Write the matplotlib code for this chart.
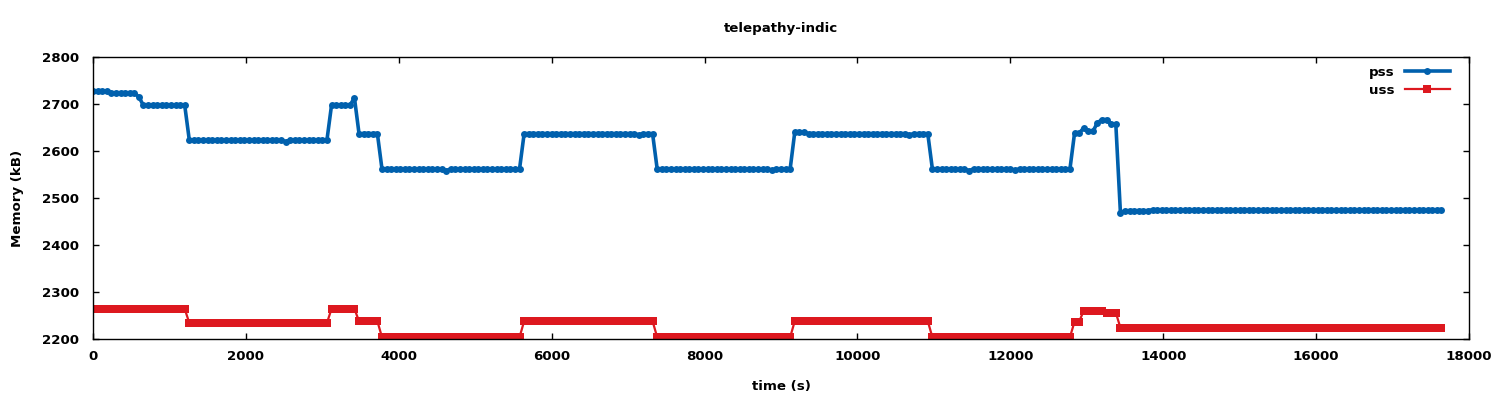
import numpy as np
import matplotlib
matplotlib.use("Agg")
import matplotlib.pyplot as plt

# ---- data (sampled every 60 s, run-length encoded: level, number of samples) ----
sample_interval_s = 60

pss_levels = [2727, 2724, 2715, 2697, 2623, 2620, 2623, 2697, 2713, 2637,
              2562, 2558, 2562, 2637, 2634, 2637, 2562, 2559, 2562,
              2640, 2637, 2634, 2637, 2562, 2558, 2562, 2559, 2562,
              2638, 2649, 2642, 2660, 2667, 2657, 2469, 2473, 2475]
pss_counts = [4, 6, 1, 10, 21, 1, 9, 5, 1, 5,
              14, 1, 16, 25, 1, 3, 25, 1, 4,
              3, 22, 1, 4, 8, 1, 9, 1, 12,
              2, 1, 2, 1, 2, 2, 1, 6, 64]

uss_levels = [2264, 2234, 2264, 2238, 2204, 2238, 2204, 2238, 2204,
              2237, 2260, 2256, 2224]
uss_counts = [21, 31, 6, 5, 31, 29, 30, 30, 31,
              2, 5, 3, 71]

title = "telepathy-indic"
xlabel = "time (s)"
ylabel = "Memory (kB)"
xticks = [0, 2000, 4000, 6000, 8000, 10000, 12000, 14000, 16000, 18000]
yticks = [2200, 2300, 2400, 2500, 2600, 2700, 2800]

pss = np.repeat(pss_levels, pss_counts)
uss = np.repeat(uss_levels, uss_counts)
t_pss = np.arange(len(pss)) * sample_interval_s
t_uss = np.arange(len(uss)) * sample_interval_s

# ---- figure ----
plt.rcParams['font.family'] = ['DejaVu Sans']
plt.rcParams['font.weight'] = 'bold'
fs = 9.6

fig = plt.figure(figsize=(15, 4), dpi=100)
ax = fig.add_axes([93/1500, 1 - 339/400, (1469 - 93)/1500, (339 - 57)/400])

blue = "#0060ad"
red = "#dd181f"

ax.plot(t_pss, pss, color=blue, lw=2.6, marker='o', ms=5.0, mew=0, label="pss")
ax.plot(t_uss, uss, color=red, lw=1.6, marker='s', ms=5.6, mew=0, label="uss")

ax.set_xlim(0, 18000)
ax.set_ylim(2200, 2800)
ax.set_xticks(xticks)
ax.set_yticks(yticks)
ax.tick_params(direction='in', length=4, width=1, top=True, right=True,
               labelsize=fs, pad=8, colors='black')
ax.tick_params(axis='y', pad=10)
for s in ax.spines.values():
    s.set_linewidth(1)

ax.set_title(title, fontsize=fs, fontweight='bold', pad=18)
ax.set_xlabel(xlabel, fontsize=fs, fontweight='bold', labelpad=12)
ax.set_ylabel(ylabel, fontsize=fs, fontweight='bold', labelpad=13)

leg = ax.legend(loc='upper right', frameon=False, markerfirst=False, numpoints=1,
                fontsize=fs, handlelength=3.4, handletextpad=0.8,
                labelspacing=0.35, borderaxespad=0.0, borderpad=0.0,
                bbox_to_anchor=(1450/1500, 1 - 66/400),
                bbox_transform=fig.transFigure)

fig.savefig("out.png", dpi=100)
